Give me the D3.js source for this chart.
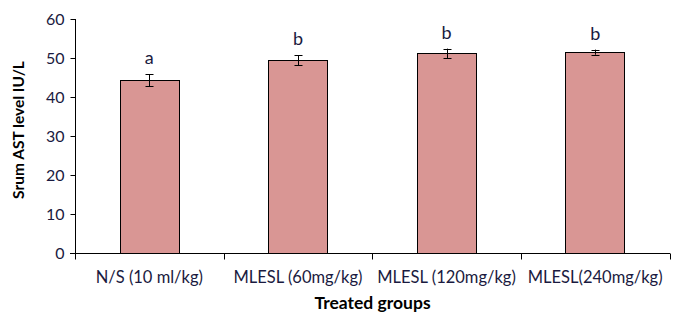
<!DOCTYPE html>
<html>
<head>
<meta charset="utf-8">
<script src="https://cdn.jsdelivr.net/npm/d3@7"></script>
<style>
  body { margin: 0; background: #fff; }
  svg text { font-family: Lato, "Open Sans", sans-serif; fill: #1a1a40; }
</style>
</head>
<body>
<svg id="chart" width="678" height="320"></svg>
<script>
// data
const groups = ["N/S (10 ml/kg)", "MLESL (60mg/kg)", "MLESL (120mg/kg)", "MLESL(240mg/kg)"];
const means = [44.3, 49.4, 51.2, 51.5];
const errors = [1.5, 1.3, 1.2, 0.65];
const letters = ["a", "b", "b", "b"];
const yTicks = [0, 10, 20, 30, 40, 50, 60];

let margin = {top: 19, right: 8, bottom: 67, left: 75},
  width = 678 - margin.left - margin.right,
  height = 320 - margin.top - margin.bottom;

let svg = d3.select("#chart");
let g = svg.append("g")
  .attr("transform", `translate(${margin.left}, ${margin.top})`);

let x_scale = d3.scaleBand()
  .domain(groups)
  .range([0, width - 0.5])
  .paddingInner(0.6)
  .paddingOuter(0.3);

let y_scale = d3.scaleLinear()
  .domain([0, 60])
  .range([height, 0]);

// Bars
g.selectAll(".bar")
  .data(groups)
  .join("rect")
  .attr("class", "bar")
  .attr("x", d => Math.round(x_scale(d)) + 0.5)
  .attr("y", (d, i) => Math.round(y_scale(means[i])) + 0.5)
  .attr("width", Math.round(x_scale.bandwidth()))
  .attr("height", (d, i) => Math.round(height - y_scale(means[i])))
  .attr("fill", "#d99694")
  .attr("stroke", "#000")
  .attr("stroke-width", 1);

// Error bars
let err = g.selectAll(".err")
  .data(groups)
  .join("g")
  .attr("class", "err")
  .attr("stroke", "#000")
  .attr("stroke-width", 1);

let cx = d => Math.round(x_scale(d) + x_scale.bandwidth() / 2) + 0.5;
err.append("line")
  .attr("x1", cx).attr("x2", cx)
  .attr("y1", (d, i) => y_scale(means[i] + errors[i]))
  .attr("y2", (d, i) => y_scale(means[i] - errors[i]));
[1, -1].forEach(s => {
  err.append("line")
    .attr("x1", d => cx(d) - 4).attr("x2", d => cx(d) + 4)
    .attr("y1", (d, i) => Math.round(y_scale(means[i] + s * errors[i])) + 0.5)
    .attr("y2", (d, i) => Math.round(y_scale(means[i] + s * errors[i])) + 0.5);
});

// Significance letters
g.selectAll(".letter")
  .data(groups)
  .join("text")
  .attr("class", "letter")
  .attr("x", d => x_scale(d) + x_scale.bandwidth() / 2)
  .attr("y", (d, i) => y_scale(means[i] + errors[i]) - 10)
  .attr("text-anchor", "middle")
  .style("font-size", "18px")
  .text((d, i) => letters[i]);

// Y axis
let yAxis = g.append("g")
  .attr("transform", "translate(0.5, 0)")
  .call(d3.axisLeft(y_scale).tickValues(yTicks).tickSize(5).tickPadding(6));
yAxis.select(".domain").attr("d", `M0,${height}V0`);
yAxis.selectAll(".tick line").attr("stroke", "#000");
yAxis.selectAll("text")
  .style("font-family", "Lato, sans-serif")
  .style("font-size", "16px")
  .attr("fill", "#1a1a40");

// X axis with ticks on category boundaries
let xAxis = g.append("g")
  .attr("transform", `translate(0, ${height + 0.5})`);
xAxis.append("line")
  .attr("x1", -5).attr("x2", width)
  .attr("stroke", "#000");
let bounds = d3.range(groups.length + 1).map(i => Math.round(i * (width - 0.5) / groups.length) + 0.5);
xAxis.selectAll(".xt")
  .data(bounds)
  .join("line")
  .attr("class", "xt")
  .attr("x1", d => d).attr("x2", d => d)
  .attr("y1", 0).attr("y2", 6)
  .attr("stroke", "#000");
xAxis.selectAll(".xl")
  .data(groups)
  .join("text")
  .attr("class", "xl")
  .attr("x", d => x_scale(d) + x_scale.bandwidth() / 2)
  .attr("y", 29)
  .attr("text-anchor", "middle")
  .style("font-size", "16.5px")
  .text(d => d);

// Axis titles
svg.append("text")
  .attr("x", margin.left + width / 2)
  .attr("y", 309)
  .attr("text-anchor", "middle")
  .style("font-size", "17.5px")
  .style("font-weight", "bold")
  .style("fill", "#000")
  .text("Treated groups");

svg.append("text")
  .attr("transform", `translate(24, ${margin.top + height / 2 - 6}) rotate(-90)`)
  .attr("text-anchor", "middle")
  .style("font-size", "15.5px")
  .style("font-weight", "bold")
  .style("fill", "#000")
  .text("Srum AST level IU/L");
</script>
</body>
</html>
